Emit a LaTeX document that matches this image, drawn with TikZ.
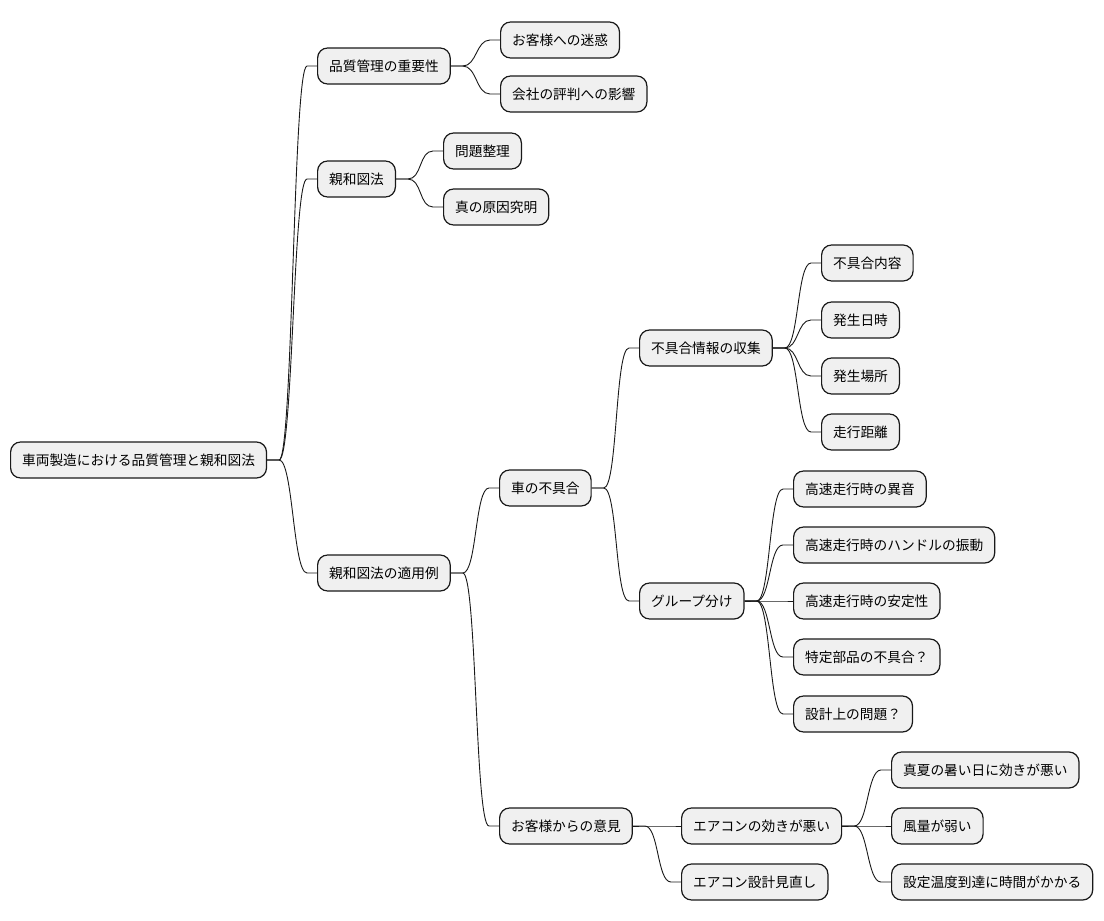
\documentclass[tikz,border=0pt]{standalone}
\usepackage{fontspec}
\newfontfamily\cjk{Noto Sans CJK JP}
\begin{document}
\begin{tikzpicture}[x=1pt,y=-1pt,
  box/.style={draw=black!90,line width=1.2pt,fill=black!6,rounded corners=10pt,
    anchor=west,minimum height=36pt,inner xsep=11.5pt,inner ysep=0pt,
    font=\cjk\fontsize{13.7}{16}\selectfont},
  conn/.style={draw=black!90,line width=0.9pt}]
\useasboundingbox (0,0) rectangle (1104,921);
\newcommand\conn[2]{\draw[conn] (#1.east) -- ++(12,0) .. controls +(14,0) and +(-14,0) .. ([xshift=-10pt]#2.west) -- (#2.west);}
\node[box] (r) at (10,460) {車両製造における品質管理と親和図法};
\node[box] (a) at (317,66) {品質管理の重要性};
\node[box] (a1) at (500,40) {お客様への迷惑};
\node[box] (a2) at (500,94) {会社の評判への影響};
\node[box] (b) at (317,179) {親和図法};
\node[box] (b1) at (443,151) {問題整理};
\node[box] (b2) at (443,207) {真の原因究明};
\node[box] (c) at (317,573) {親和図法の適用例};
\node[box] (c1) at (499,488) {車の不具合};
\node[box] (c11) at (639,348) {不具合情報の収集};
\node[box] (d1) at (821,263) {不具合内容};
\node[box] (d2) at (821,320) {発生日時};
\node[box] (d3) at (821,376) {発生場所};
\node[box] (d4) at (821,432) {走行距離};
\node[box] (c12) at (639,601) {グループ分け};
\node[box] (e1) at (793,489) {高速走行時の異音};
\node[box] (e2) at (793,545) {高速走行時のハンドルの振動};
\node[box] (e3) at (793,601) {高速走行時の安定性};
\node[box] (e4) at (793,657) {特定部品の不具合？};
\node[box] (e5) at (793,714) {設計上の問題？};
\node[box] (c2) at (499,826) {お客様からの意見};
\node[box] (c21) at (681,826) {エアコンの効きが悪い};
\node[box] (f1) at (891,770) {真夏の暑い日に効きが悪い};
\node[box] (f2) at (891,826) {風量が弱い};
\node[box] (f3) at (891,882) {設定温度到達に時間がかかる};
\node[box] (c22) at (681,882) {エアコン設計見直し};
\conn{r}{a}\conn{r}{b}\conn{r}{c}
\conn{a}{a1}\conn{a}{a2}
\conn{b}{b1}\conn{b}{b2}
\conn{c}{c1}\conn{c}{c2}
\conn{c1}{c11}\conn{c1}{c12}
\conn{c11}{d1}\conn{c11}{d2}\conn{c11}{d3}\conn{c11}{d4}
\conn{c12}{e1}\conn{c12}{e2}\conn{c12}{e3}\conn{c12}{e4}\conn{c12}{e5}
\conn{c2}{c21}\conn{c2}{c22}
\conn{c21}{f1}\conn{c21}{f2}\conn{c21}{f3}
\end{tikzpicture}
\end{document}
